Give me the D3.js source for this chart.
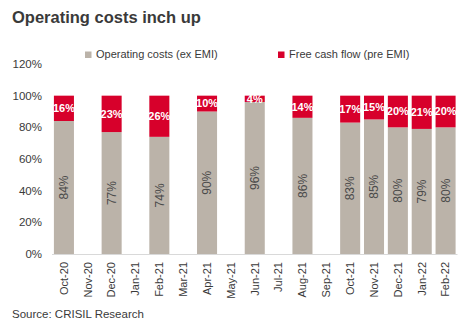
<!DOCTYPE html>
<html>
<head>
<meta charset="utf-8">
<script src="https://cdn.jsdelivr.net/npm/d3@7"></script>
<style>
  html, body { margin: 0; padding: 0; background: #fff; }
  svg { display: block; font-family: "Liberation Sans", Arial, sans-serif; }
</style>
</head>
<body>
<svg id="chart" width="467" height="335"></svg>
<script>
// Monthly split of cash inflows
const months = ["Oct-20","Nov-20","Dec-20","Jan-21","Feb-21","Mar-21","Apr-21","May-21",
                "Jun-21","Jul-21","Aug-21","Sep-21","Oct-21","Nov-21","Dec-21","Jan-22","Feb-22"];
const opCosts = [84, null, 77, null, 74, null, 90, null, 96, null, 86, null, 83, 85, 80, 79, 80];
const freeCash = [16, null, 23, null, 26, null, 10, null, 4, null, 14, null, 17, 15, 20, 21, 20];
const yTicks = [0, 20, 40, 60, 80, 100, 120];
const seriesNames = ["Operating costs (ex EMI)", "Free cash flow (pre EMI)"];

const grey = "#bbb3a9", red = "#d7002b", ink = "#3a3a3a";
const svg = d3.select("#chart");

const x = d3.scaleBand().domain(months).range([52, 457.5]).paddingInner(0.16).paddingOuter(0.08);
const y = d3.scaleLinear().domain([0, 120]).range([254, 64]);

// Title
svg.append("text").attr("x", 12).attr("y", 23)
  .attr("font-size", 16.5).attr("font-weight", "bold").attr("fill", ink)
  .text("Operating costs inch up");

// Legend
const legend = [{name: seriesNames[0], color: grey, x: 85}, {name: seriesNames[1], color: red, x: 278}];
legend.forEach(d => {
  svg.append("rect").attr("x", d.x).attr("y", 51.5).attr("width", 6.5).attr("height", 6.5).attr("fill", d.color);
  svg.append("text").attr("x", d.x + 11).attr("y", 57.5).attr("font-size", 11).attr("fill", ink).text(d.name);
});

// Y axis labels
svg.append("g").selectAll("text").data(yTicks).join("text")
  .attr("x", 42).attr("y", d => y(d)).attr("dy", "0.35em")
  .attr("text-anchor", "end").attr("font-size", 11.5).attr("fill", ink)
  .text(d => d + "%");

// Baseline
svg.append("line").attr("x1", 52).attr("x2", 457.5).attr("y1", y(0) + 0.5).attr("y2", y(0) + 0.5)
  .attr("stroke", "#d9d9d9").attr("stroke-width", 1);

const rows = months.map((m, i) => ({m, op: opCosts[i], fc: freeCash[i]})).filter(d => d.op != null);

// Stacked bars
const bars = svg.append("g");
bars.selectAll("rect.op").data(rows).join("rect")
  .attr("x", d => x(d.m)).attr("width", x.bandwidth())
  .attr("y", d => y(d.op)).attr("height", d => y(0) - y(d.op)).attr("fill", grey);
bars.selectAll("rect.fc").data(rows).join("rect")
  .attr("x", d => x(d.m)).attr("width", x.bandwidth())
  .attr("y", d => y(d.op + d.fc)).attr("height", d => y(d.op) - y(d.op + d.fc)).attr("fill", red);

// Value labels
bars.selectAll("text.op").data(rows).join("text")
  .attr("transform", d => `translate(${x(d.m) + x.bandwidth() / 2},${(y(0) + y(d.op)) / 2}) rotate(-90)`)
  .attr("text-anchor", "middle").attr("dy", "0.35em")
  .attr("font-size", 12).attr("fill", "#4a4a4a").text(d => d.op + "%");
bars.selectAll("text.fc").data(rows).join("text")
  .attr("x", d => x(d.m) + x.bandwidth() / 2)
  .attr("y", d => (y(d.op) + y(d.op + d.fc)) / 2).attr("dy", "0.35em")
  .attr("text-anchor", "middle").attr("font-size", 11).attr("font-weight", "bold")
  .attr("fill", "#fff").text(d => d.fc + "%");

// X axis labels
svg.append("g").selectAll("text").data(months).join("text")
  .attr("transform", d => `translate(${x(d) + x.bandwidth() / 2},262) rotate(-90)`)
  .attr("text-anchor", "end").attr("dy", "0.35em")
  .attr("font-size", 11).attr("fill", ink).text(d => d);

// Source
svg.append("text").attr("x", 12).attr("y", 318).attr("font-size", 11.5).attr("fill", ink)
  .text("Source: CRISIL Research");
</script>
</body>
</html>
